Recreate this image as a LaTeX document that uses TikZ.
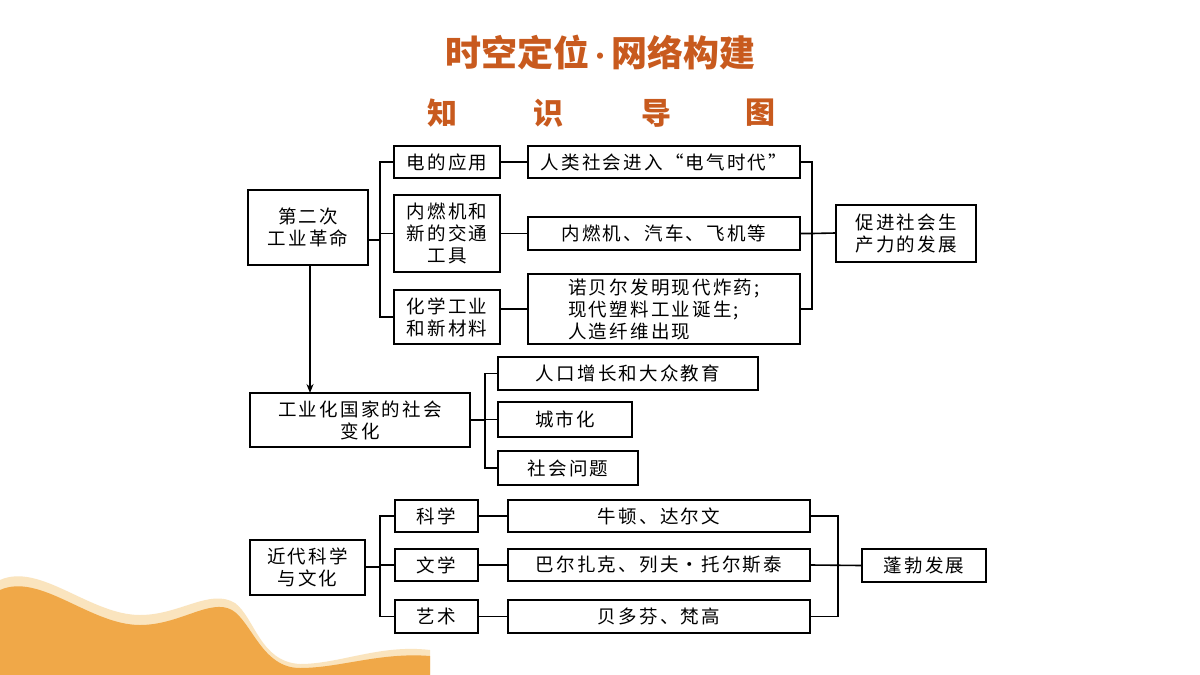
\documentclass[tikz,border=0pt]{standalone}
\usepackage{fontspec}
\setmainfont{Noto Sans CJK SC}
\newfontfamily\cjk{Noto Sans CJK SC}
\newfontfamily\cjks[LetterSpace=12]{Noto Sans CJK SC}
\usetikzlibrary{arrows.meta}
\begin{document}
\begin{tikzpicture}[x=1pt,y=-1pt,
 bx/.style={draw,line width=1.6pt,inner sep=0pt,align=center,font=\cjks\fontsize{18.5}{22}\selectfont},
 ln/.style={line width=1.6pt}]
\useasboundingbox (0,0) rectangle (1200,675);
\fill[white] (0,0) rectangle (1200,675);
% wave
\fill[color={rgb,255:red,250;green,228;blue,190}] (0,580) .. controls (40,562) and (90,615) .. (140,615) .. controls (180,615) and (210,588) .. (235,603) .. controls (255,618) and (260,662) .. (300,664) .. controls (340,664) and (380,644) .. (430,650) -- (430,675) -- (0,675) -- cycle;
\fill[color={rgb,255:red,240;green,168;blue,72}] (0,590) .. controls (40,572) and (90,625) .. (140,625) .. controls (180,625) and (210,598) .. (232,610) .. controls (252,622) and (262,668) .. (300,668) .. controls (340,668) and (380,652) .. (430,656) -- (430,675) -- (0,675) -- cycle;
% titles
\definecolor{tc}{RGB}{200,90,30}
\node[text=tc,font=\cjk\bfseries\fontsize{36}{40}\selectfont] (t) at (600,52) {时空定位{\fontsize{22}{22}\selectfont\raisebox{2pt}{•}}网络构建};
\foreach \c/\x [count=\i] in {知/442,识/548,导/656,图/760}
  \node[text=tc,font=\cjk\bfseries\fontsize{30}{34}\selectfont] (s\i) at (\x,113) {\c};
% boxes
\newcommand{\bxx}[6]{\node[bx,minimum width={#3-#2},minimum height={#5-#4}] (#1) at ({(#2+#3)/2},{(#4+#5)/2}) {#6};}
\bxx{a}{248}{368}{190}{265}{第二次\\工业革命}
\bxx{b1}{394}{500}{146}{178}{电的应用}
\bxx{c1}{528}{800}{146}{178}{人类社会进入“电气时代”}
\bxx{b2}{394}{500}{195}{272}{内燃机和\\新的交通\\工具}
\bxx{c2}{528}{800}{217}{250}{内燃机、汽车、飞机等}
\bxx{b3}{394}{500}{290}{344}{化学工业\\和新材料}
\node[bx,minimum width=272,minimum height=70,align=left] (c3) at (664,309) {诺贝尔发明现代炸药;\\现代塑料工业诞生;\\人造纤维出现};
\bxx{d}{836}{976}{205}{262}{促进社会生\\产力的发展}
\bxx{e}{250}{470}{393}{447}{工业化国家的社会\\变化}
\bxx{f1}{498}{758}{357}{390}{人口增长和大众教育}
\bxx{f2}{498}{632}{402}{437}{城市化}
\bxx{f3}{498}{638}{451}{485}{社会问题}
\bxx{g}{250}{365}{540}{595}{近代科学\\与文化}
\bxx{h1}{395}{478}{500}{532}{科学}
\bxx{i1}{508}{810}{500}{532}{牛顿、达尔文}
\bxx{h2}{395}{478}{549}{581}{文学}
\bxx{i2}{508}{810}{549}{581}{巴尔扎克、列夫·托尔斯泰}
\bxx{h3}{395}{478}{600}{633}{艺术}
\bxx{i3}{508}{810}{600}{633}{贝多芬、梵高}
\bxx{j}{862}{986}{549}{582}{蓬勃发展}
% connectors
\coordinate (k1) at (380,240);
\draw[ln] (a.east|-k1) -- (k1);
\draw[ln] (b1.west) -| (k1) |- (b3.west);
\draw[ln] (k1) |- (b2.west);
\draw[ln] (b1) -- (c1); \draw[ln] (b2.east|-c2) -- (c2.west); \draw[ln] (b3.east|-c3) -- (c3.west);
\coordinate (k2) at (812,233);
\draw[ln] (c1.east) -| (k2) |- (c3.east);
\draw[ln] (c2.east) -- (c2.east-|k2) -- (d.west|-k2);
\draw[ln,-{Stealth[length=9pt,width=7pt]}] (310,265) -- (310,393);
\coordinate (k3) at (485,420);
\draw[ln] (e.east|-k3) -- (k3);
\draw[ln] (f1.west) -| (k3) |- (f3.west);
\draw[ln] (k3) |- (f2.west);
\coordinate (k4) at (380,567);
\draw[ln] (g.east|-k4) -- (k4);
\draw[ln] (h1.west) -| (k4) |- (h3.west);
\draw[ln] (k4) |- (h2.west);
\draw[ln] (h1) -- (i1); \draw[ln] (h2) -- (i2); \draw[ln] (h3) -- (i3);
\coordinate (k5) at (838,565);
\draw[ln] (i1.east) -| (k5) |- (i3.east);
\draw[ln] (i2.east) -- (j.west);
\end{tikzpicture}
\end{document}
